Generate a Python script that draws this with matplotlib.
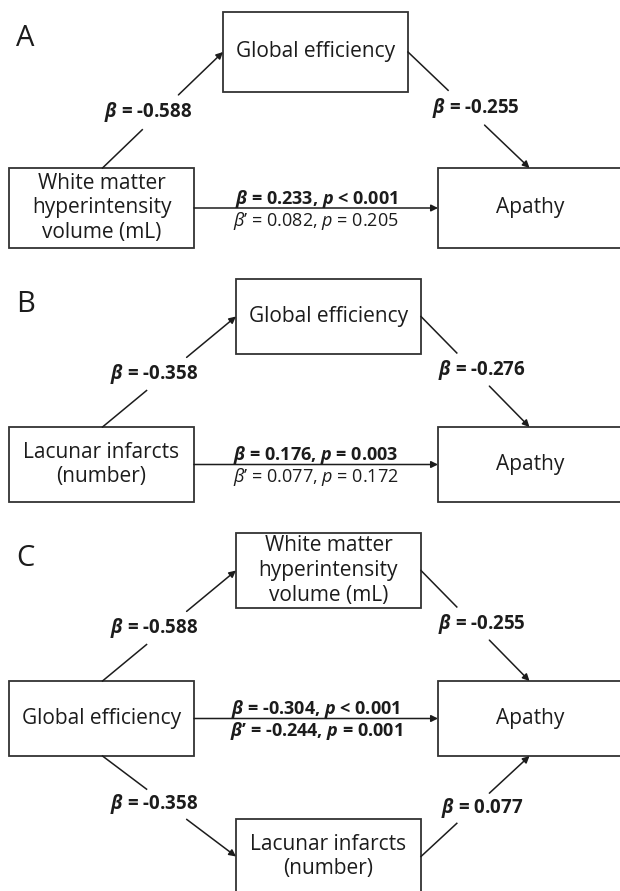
"""
Mediation path diagrams (panels A-C): cerebral small vessel disease markers,
global efficiency and apathy.
"""

import matplotlib
matplotlib.use("Agg")
import matplotlib.pyplot as plt
from matplotlib.patches import Rectangle

plt.rcParams['font.family'] = ['Open Sans', 'DejaVu Sans']
plt.rcParams['mathtext.fontset'] = 'custom'
plt.rcParams['mathtext.rm'] = 'Open Sans'
plt.rcParams['mathtext.it'] = 'Open Sans:italic'
plt.rcParams['mathtext.bf'] = 'Open Sans:bold'
plt.rcParams['mathtext.bfit'] = 'Open Sans:italic:bold'

# ---- data ----
panel_labels = ["A", "B", "C"]
predictors = ["White matter\nhyperintensity\nvolume (mL)",
              "Lacunar infarcts\n(number)",
              "Global efficiency"]
mediators_top = ["Global efficiency", "Global efficiency",
                 "White matter\nhyperintensity\nvolume (mL)"]
mediators_bottom = [None, None, "Lacunar infarcts\n(number)"]
outcome = "Apathy"

a_top = [-0.588, -0.358, -0.588]
b_top = [-0.255, -0.276, -0.255]
a_bottom = [None, None, -0.358]
b_bottom = [None, None, 0.077]

c_total = [0.233, 0.176, -0.304]
c_total_p = ["< 0.001", "= 0.003", "< 0.001"]
c_direct = [0.082, 0.077, -0.244]
c_direct_p = ["= 0.205", "= 0.172", "= 0.001"]
direct_significant = [False, False, True]

# ---- layout (pixels, y grows downwards) ----
W, H = 620, 891
BOX_W = 185
mid_top_y = [12, 279, 533]      # top of upper mediator box
mid_x = [223, 236, 236]         # left of mediator boxes
row_gap = [156, 148, 148]       # mediator top -> predictor top
box_h = [80, 75, 75]
low_gap = 138                   # predictor top -> lower mediator top
LEFT_X = 9
OUT_X = 438

INK = "#1c1c1c"
EDGE = "#333333"
BOX_FS = 15
LAB_FS = 13.5
DIR_FS = 13

fig = plt.figure(figsize=(W / 100, H / 100), dpi=100)
ax = fig.add_axes([0, 0, 1, 1])
ax.set_xlim(0, W)
ax.set_ylim(H, 0)
ax.axis("off")


def draw_box(x, y, h, text):
    ax.add_patch(Rectangle((x, y), BOX_W, h, facecolor="white",
                           edgecolor=EDGE, lw=1.3, zorder=2))
    ax.text(x + BOX_W / 2, y + h / 2, text, ha="center", va="center",
            fontsize=BOX_FS, color=INK, linespacing=1.22, zorder=3)


def beta_label(value):
    return r"$\mathbfit{\beta}$ = " + f"{value:.3f}"


def broken_arrow(start, end, label, dx):
    # line with a gap in the middle where the coefficient sits
    t1, t2, tm = 0.33, 0.63, 0.48
    p1 = (start[0] + t1 * (end[0] - start[0]), start[1] + t1 * (end[1] - start[1]))
    p2 = (start[0] + t2 * (end[0] - start[0]), start[1] + t2 * (end[1] - start[1]))
    pm = (start[0] + tm * (end[0] - start[0]), start[1] + tm * (end[1] - start[1]))
    ax.plot([start[0], p1[0]], [start[1], p1[1]], color=INK, lw=1.1)
    ax.annotate("", xy=end, xytext=p2,
                arrowprops=dict(arrowstyle="-|>", color=INK, lw=1.1,
                                mutation_scale=10, shrinkA=0, shrinkB=0))
    ax.text(pm[0] + dx, pm[1], label, ha="center", va="center",
            fontsize=LAB_FS, fontweight="bold", color=INK)


for i, letter in enumerate(panel_labels):
    top = mid_top_y[i]
    h = box_h[i]
    pred_top = top + row_gap[i]
    pred_cy = pred_top + h / 2
    mx = mid_x[i]

    ax.text(16, top + (26 if i == 0 else 25), letter, ha="left", va="center",
            fontsize=21, color=INK)

    draw_box(LEFT_X, pred_top, h, predictors[i])
    draw_box(OUT_X, pred_top, h, outcome)
    draw_box(mx, top, h, mediators_top[i])

    pred_cx = LEFT_X + BOX_W / 2 + 1
    out_cx = OUT_X + BOX_W / 2 - 1

    # a and b paths through the upper mediator
    broken_arrow((pred_cx, pred_top), (mx, top + h / 2),
                 beta_label(a_top[i]), -12)
    broken_arrow((mx + BOX_W, top + h / 2), (out_cx, pred_top),
                 beta_label(b_top[i]), 9)

    # lower mediator (panel C only)
    if mediators_bottom[i] is not None:
        low_top = pred_top + low_gap
        draw_box(mx, low_top, h, mediators_bottom[i])
        broken_arrow((pred_cx, pred_top + h), (mx, low_top + h / 2),
                     beta_label(a_bottom[i]), -12)
        broken_arrow((mx + BOX_W, low_top + h / 2), (out_cx, pred_top + h),
                     beta_label(b_bottom[i]), 9)

    # total and direct effect
    ax.annotate("", xy=(OUT_X, pred_cy), xytext=(LEFT_X + BOX_W, pred_cy),
                arrowprops=dict(arrowstyle="-|>", color=INK, lw=1.1,
                                mutation_scale=10, shrinkA=0, shrinkB=0))
    cx = (LEFT_X + BOX_W + OUT_X) / 2
    total_txt = (r"$\mathbfit{\beta}$ = " + f"{c_total[i]:.3f}, "
                 + r"$\mathbfit{p}$ " + c_total_p[i])
    ax.text(cx, pred_cy - 9, total_txt, ha="center", va="center",
            fontsize=DIR_FS, fontweight="bold", color=INK)
    if direct_significant[i]:
        direct_txt = (r"$\mathbfit{\beta}$’ = " + f"{c_direct[i]:.3f}, "
                      + r"$\mathbfit{p}$ " + c_direct_p[i])
        weight = "bold"
    else:
        direct_txt = (r"$\beta$’ = " + f"{c_direct[i]:.3f}, "
                      + r"$p$ " + c_direct_p[i])
        weight = "normal"
    ax.text(cx, pred_cy + 13, direct_txt, ha="center", va="center",
            fontsize=DIR_FS, fontweight=weight, color=INK)

fig.savefig("out.png", dpi=100, facecolor="white")
